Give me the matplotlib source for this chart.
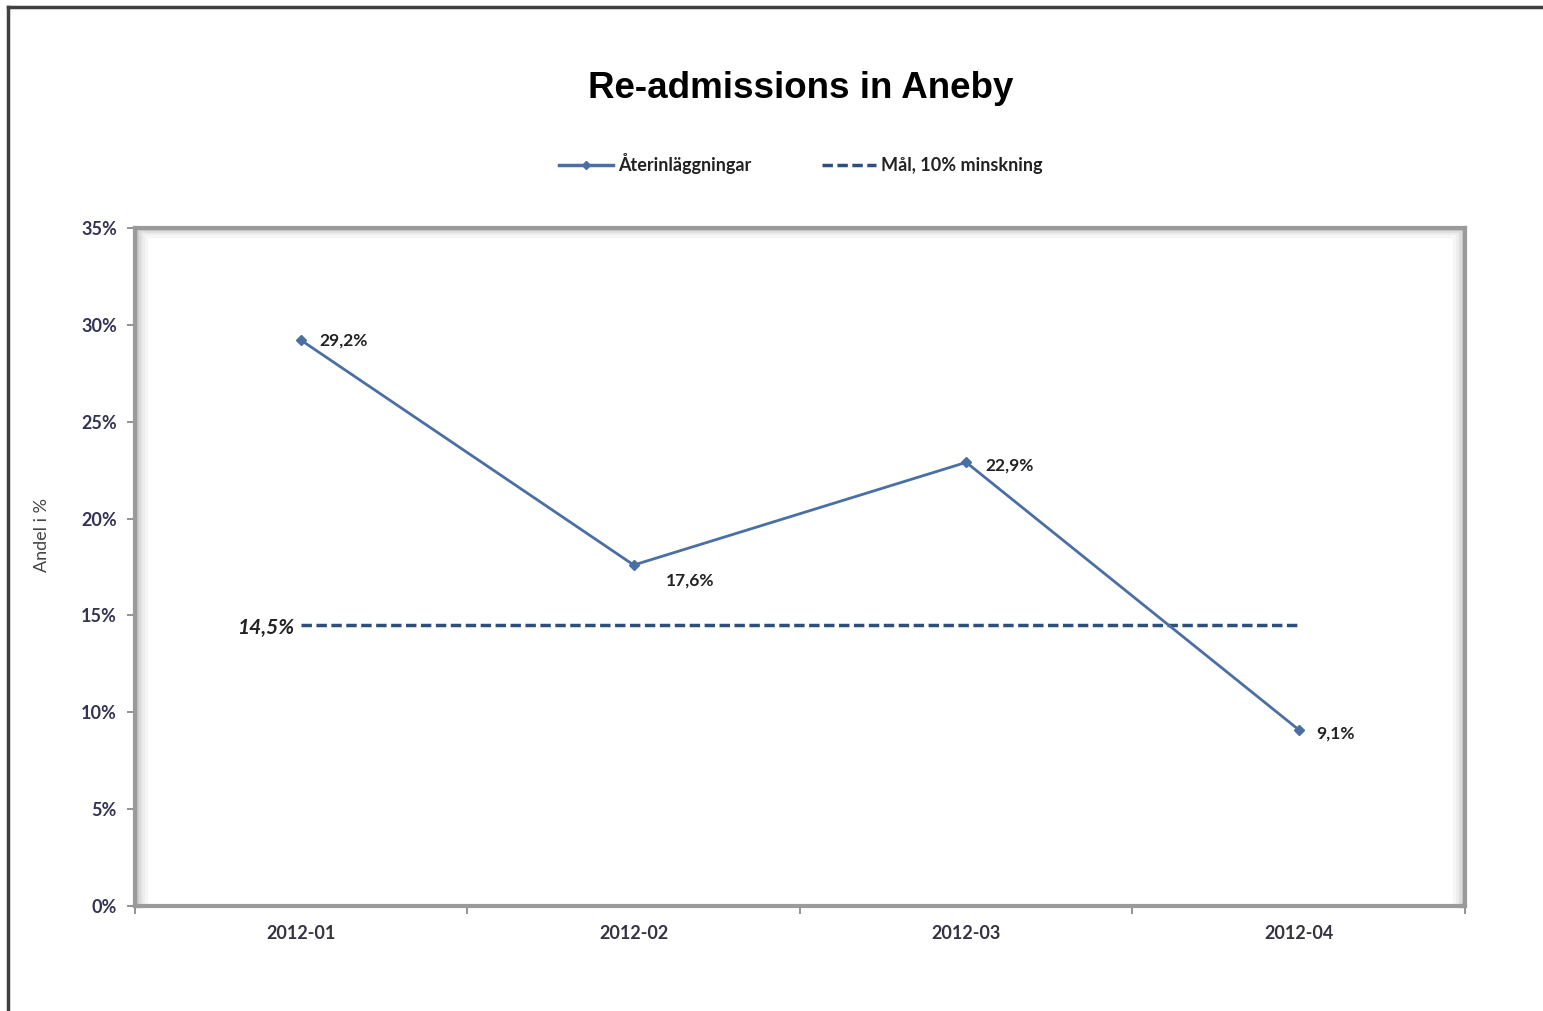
import matplotlib
matplotlib.use("Agg")
import matplotlib.pyplot as plt
from matplotlib.lines import Line2D
from matplotlib.ticker import FixedLocator, PercentFormatter

# Data
months = ["2012-01", "2012-02", "2012-03", "2012-04"]
readmissions = [29.2, 17.6, 22.9, 9.1]
target = 14.5
point_labels = ["29,2%", "17,6%", "22,9%", "9,1%"]
target_label = "14,5%"

plt.rcParams["font.family"] = ["Lato", "DejaVu Sans"]

fig = plt.figure(figsize=(15.43, 10.11), dpi=100)
ax = fig.add_axes([0.0875, 0.1039, 0.8619, 0.6706])

line_color = "#4a6fa5"
dash_color = "#2c4f80"
text_color = "#222222"

x = list(range(len(months)))
ax.plot(x, readmissions, color=line_color, lw=2, marker="D", ms=5, zorder=3)
ax.plot([x[0], x[-1]], [target, target], color=dash_color, lw=2.5,
        ls=(0, (3, 1.3)), zorder=2)

# etiquetas de datos
offsets = [(13, 0), (23, -11), (14, -2), (13, -3)]
for xi, yi, lab, off in zip(x, readmissions, point_labels, offsets):
    ax.annotate(lab, (xi, yi), xytext=off, textcoords="offset points",
                ha="left", va="center", fontsize=12.5, fontweight="bold",
                color=text_color)
ax.annotate(target_label, (x[0], target), xytext=(-5, -2), textcoords="offset points",
            ha="right", va="center", fontsize=15, fontweight="bold",
            fontstyle="italic", color=text_color)

ax.set_xlim(-0.5, 3.5)
ax.set_ylim(0, 35)
ax.yaxis.set_major_locator(FixedLocator([0, 5, 10, 15, 20, 25, 30, 35]))
ax.yaxis.set_major_formatter(PercentFormatter(decimals=0))
ax.set_xticks([-0.5, 0.5, 1.5, 2.5, 3.5])
ax.set_xticklabels([])
ax.set_xticks(x, minor=True)
ax.set_xticklabels(months, minor=True)
ax.tick_params(axis="x", which="major", length=6, width=1.2, color="#808080", direction="out")
ax.tick_params(axis="x", which="minor", length=0, pad=14, labelsize=13, labelcolor="#333344")
ax.tick_params(axis="y", length=6, width=1.2, color="#808080", labelsize=13,
               labelcolor="#333355", pad=7)
for lab in ax.get_xticklabels(minor=True) + ax.get_yticklabels():
    lab.set_fontweight("bold")

fig.text(42 / 1543, 1 - 535 / 1011, "Andel i %", rotation=90, ha="center", va="center",
         fontsize=13, color="#444444")

# marco con sombra
for s in ax.spines.values():
    s.set_color("#9a9a9a")
    s.set_linewidth(3)
for i, c in enumerate(["#c4c4c4", "#dcdcdc", "#ececec", "#f6f6f6"]):
    off = 0.002 * (i + 1)
    ax.plot([off, off, 1 - off, 1 - off], [1 - off * 1.5, 1 - off * 1.5, 1 - off * 1.5, 0],
            transform=ax.transAxes, color=c, lw=2.5, zorder=1, clip_on=False)
    ax.plot([off, off], [0, 1 - off * 1.5], transform=ax.transAxes, color=c, lw=2.5,
            zorder=1, clip_on=False)

fig.text(0.519, 0.912, "Re-admissions in Aneby", ha="center", va="center",
         fontsize=26.5, fontweight="bold", family=["Liberation Sans", "DejaVu Sans"])

handles = [
    Line2D([], [], color=line_color, lw=2.5, marker="D", ms=4),
    Line2D([], [], color=dash_color, lw=2.5, ls=(0, (3, 1.3))),
]
leg = fig.legend(handles, ["Återinläggningar", "Mål, 10% minskning"], loc="center",
                 bbox_to_anchor=(0.519, 0.838), ncol=2, frameon=False, fontsize=13,
                 handlelength=3.0, columnspacing=3.9, handletextpad=0.3)
for t in leg.get_texts():
    t.set_fontweight("bold")
    t.set_color(text_color)

# borde exterior (solo izquierda y arriba)
fig.add_artist(Line2D([8 / 1543, 8 / 1543], [0, 1 - 7 / 1011], color="#404040", lw=2.5,
                      transform=fig.transFigure))
fig.add_artist(Line2D([8 / 1543, 1], [1 - 7 / 1011, 1 - 7 / 1011], color="#404040", lw=2.5,
                      transform=fig.transFigure))

fig.savefig("out.png", dpi=100)
